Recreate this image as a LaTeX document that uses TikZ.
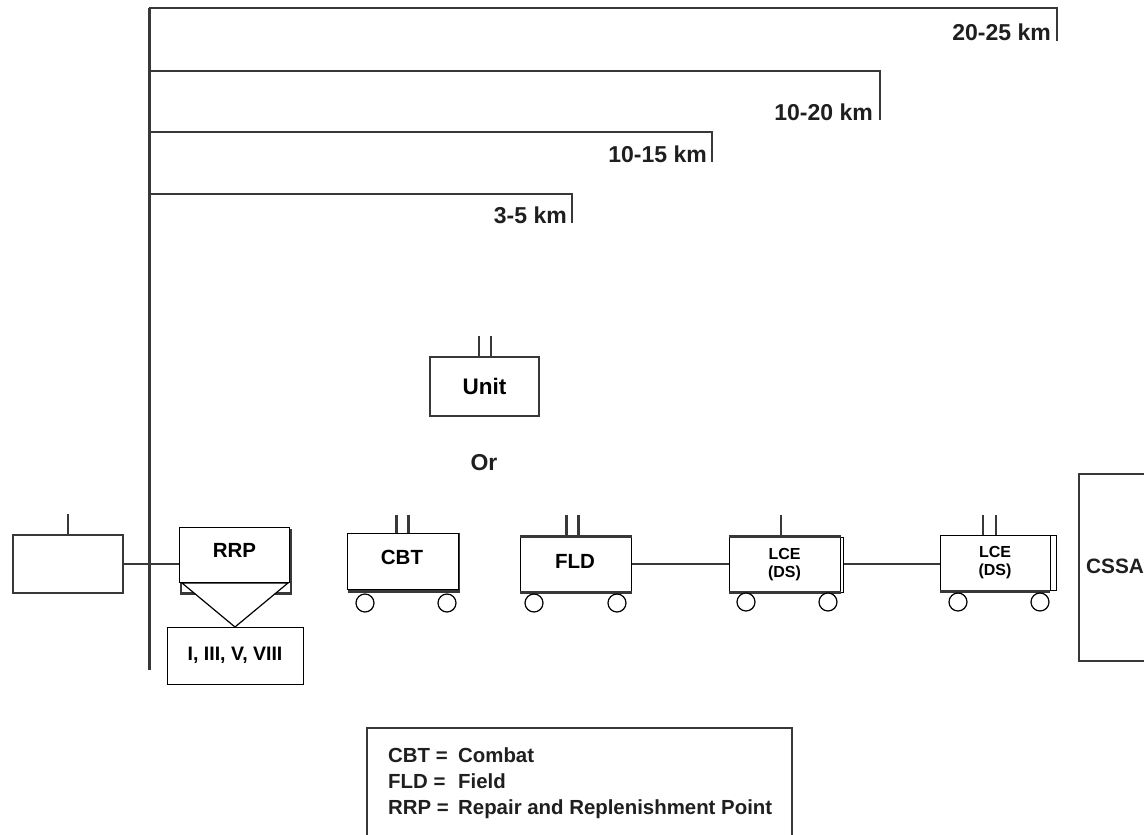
\documentclass[tikz,border=0pt]{standalone}
\usepackage{fontspec}
\setmainfont{Liberation Sans}
\definecolor{inkline}{gray}{0.22}
\definecolor{inktext}{gray}{0.12}
\tikzset{
	plainbox/.style = {draw = black, fill = white, line width = 1 pt, inner sep = 0 pt, minimum width = 110 pt, minimum height = 55 pt, text = black, font = \bfseries\fontsize{20.5}{24}\selectfont, align = center},
	scanbox/.style = {plainbox, draw = inkline, line width = 2.2 pt},
	smallbox/.style = {plainbox, font = \bfseries\fontsize{16}{18}\selectfont},
	shadowbox/.style = {draw = inkline, fill = white, line width = 2.2 pt, inner sep = 0 pt, minimum width = 110 pt},
	wheel/.style = {draw = black, fill = white, circle, line width = 1.2 pt, inner sep = 0 pt, minimum size = 18 pt},
	scanline/.style = {draw = inkline, line width = 2.2 pt},
	trunk/.style = {draw = inkline, line width = 3 pt},
	boxlabel/.style = {text = black, font = \bfseries\fontsize{20.5}{24}\selectfont},
	rangelabel/.style = {anchor = east, text = inktext, inner sep = 0 pt, font = \bfseries\fontsize{23}{26}\selectfont},
	legendtext/.style = {anchor = base west, text = inktext, inner sep = 0 pt, font = \bfseries\fontsize{20.4}{22}\selectfont}
}
\begin{document}
\begin{tikzpicture}[x = 1 pt, y = -1 pt]

	\clip (0, 0) rectangle (1144, 835);
	\fill [white] (0, 0) rectangle (1144, 835);

	\coordinate (trunktop) at (149, 8);
	\coordinate (trunkend) at (149, 670);

	\draw [trunk] (trunktop) -- (trunkend);
	\draw [scanline] (trunktop) -| (1057, 41);
	\draw [scanline] (149, 71) -| (880, 120);
	\draw [scanline] (149, 132) -| (712, 162);
	\draw [scanline] (149, 194) -| (572, 223);

	\node [rangelabel] (labelD) at (1051, 32) {20-25 km};
	\node [rangelabel] (labelC) at (873, 112) {10-20 km};
	\node [rangelabel] (labelB) at (707, 154) {10-15 km};
	\node [rangelabel] (labelA) at (567, 215) {3-5 km};

	\node [scanbox, minimum width = 109 pt, minimum height = 59 pt, font = \bfseries\fontsize{22.5}{26}\selectfont] (unit) at (484.5, 386.5) {Unit};
	\draw [scanline] ([xshift = -5.5 pt] unit.north) -- ++(0, -20);
	\draw [scanline] ([xshift = 6.5 pt] unit.north) -- ++(0, -20);
	\node [text = inktext, font = \bfseries\fontsize{23}{26}\selectfont] (orlabel) at (484, 463) {Or};

	\node [scanbox, minimum height = 58 pt] (bde) at (68, 564) {};
	\draw [scanline] (bde.north) -- ++(0, -20);

	% rrp and its wedge
	\node [shadowbox, minimum height = 63 pt] (rrpback) at (236, 562) {};
	\node [plainbox] (rrp) at (234.5, 554.5) {};
	\node [boxlabel] (rrplabel) at (234.5, 550) {RRP};
	\draw [black, line width = 1.2 pt, fill = white] (182, 583) -- (235, 627) -- (288, 583) -- cycle;
	\draw [black, line width = 1.6 pt] (rrp.south west) -- (rrp.south east);
	\node [plainbox, minimum width = 136 pt, minimum height = 57 pt, font = \bfseries\fontsize{19.5}{22}\selectfont] (classes) at (235, 655.5) {I, III, V, VIII};

	\draw [scanline] (bde.east) -- (rrp.west |- bde.east);

	% combat trains
	\node [shadowbox, minimum height = 57 pt] (cbtback) at (404, 563) {};
	\node [plainbox, minimum width = 111 pt, minimum height = 56 pt] (cbt) at (402.5, 561) {};
	\node [boxlabel] (cbtlabel) at (402, 557) {CBT};
	\draw [scanline] ([xshift = -6 pt] cbt.north) -- ++(0, -18);
	\draw [scanline] ([xshift = 6 pt] cbt.north) -- ++(0, -18);
	\node [wheel] (cbtleft) at (365, 603) {};
	\node [wheel] (cbtright) at (447, 603) {};

	% field trains
	\node [plainbox, minimum width = 111 pt] (fld) at (575.5, 564.5) {};
	\draw [inkline, line width = 2.2 pt] (fld.north west) -- (fld.north east);
	\draw [inkline, line width = 2.2 pt] (fld.south west) -- (fld.south east);
	\node [boxlabel] (fldlabel) at (575, 561) {FLD};
	\draw [scanline] ([xshift = -9 pt] fld.north) -- ++(0, -22);
	\draw [scanline] ([xshift = 3 pt] fld.north) -- ++(0, -22);
	\node [wheel] (fldleft) at (534, 603) {};
	\node [wheel] (fldright) at (617, 603) {};

	% logistics elements
	\node [smallbox, minimum width = 110 pt] (lceAback) at (788, 564.5) {};
	\node [smallbox, minimum width = 111 pt] (lceA) at (784.5, 564.5) {LCE\\(DS)};
	\draw [inkline, line width = 2.2 pt] (lceA.north west) -- (lceA.north east);
	\draw [inkline, line width = 2.2 pt] (lceA.south west) -- (lceA.south east);
	\draw [scanline] (lceA.north) ++(-3.5, 0) -- ++(0, -22);
	\node [wheel] (lceAleft) at (746, 602) {};
	\node [wheel] (lceAright) at (828, 602) {};

	\node [smallbox, minimum width = 110 pt] (lceBback) at (1001, 562.5) {};
	\node [smallbox, minimum width = 110 pt] (lceB) at (995, 562.5) {LCE\\(DS)};
	\draw [inkline, line width = 2.2 pt] (lceB.south west) ++(0, 1) -- ++(110, 0);
	\draw [scanline] ([xshift = -12 pt] lceB.north) -- ++(0, -20);
	\draw [scanline] ([xshift = 1 pt] lceB.north) -- ++(0, -20);
	\node [wheel] (lceBleft) at (958, 602) {};
	\node [wheel] (lceBright) at (1040, 602) {};

	\draw [scanline] (fld.east |- 0, 564) -- (lceA.west |- 0, 564);
	\draw [scanline] (lceAback.east |- 0, 564) -- (lceB.west |- 0, 564);

	% support area runs off the page
	\draw [scanline] (1160, 474) -- (1079, 474) -- (1079, 661) -- (1160, 661);
	\node [anchor = west, inner sep = 0 pt, text = inktext, font = \bfseries\fontsize{20.8}{26}\selectfont] (cssa) at (1086, 566) {CSSA};

	% key, cut by the lower edge
	\draw [scanline] (367, 850) -- (367, 728) -- (792, 728) -- (792, 850);
	\node [legendtext] (keyA) at (388, 762) {CBT =};
	\node [legendtext] (keyB) at (388, 788) {FLD =};
	\node [legendtext] (keyC) at (388, 814) {RRP =};
	\node [legendtext] (keyAtext) at (458, 762) {Combat};
	\node [legendtext] (keyBtext) at (458, 788) {Field};
	\node [legendtext] (keyCtext) at (458, 814) {Repair and Replenishment Point};

\end{tikzpicture}
\end{document}
